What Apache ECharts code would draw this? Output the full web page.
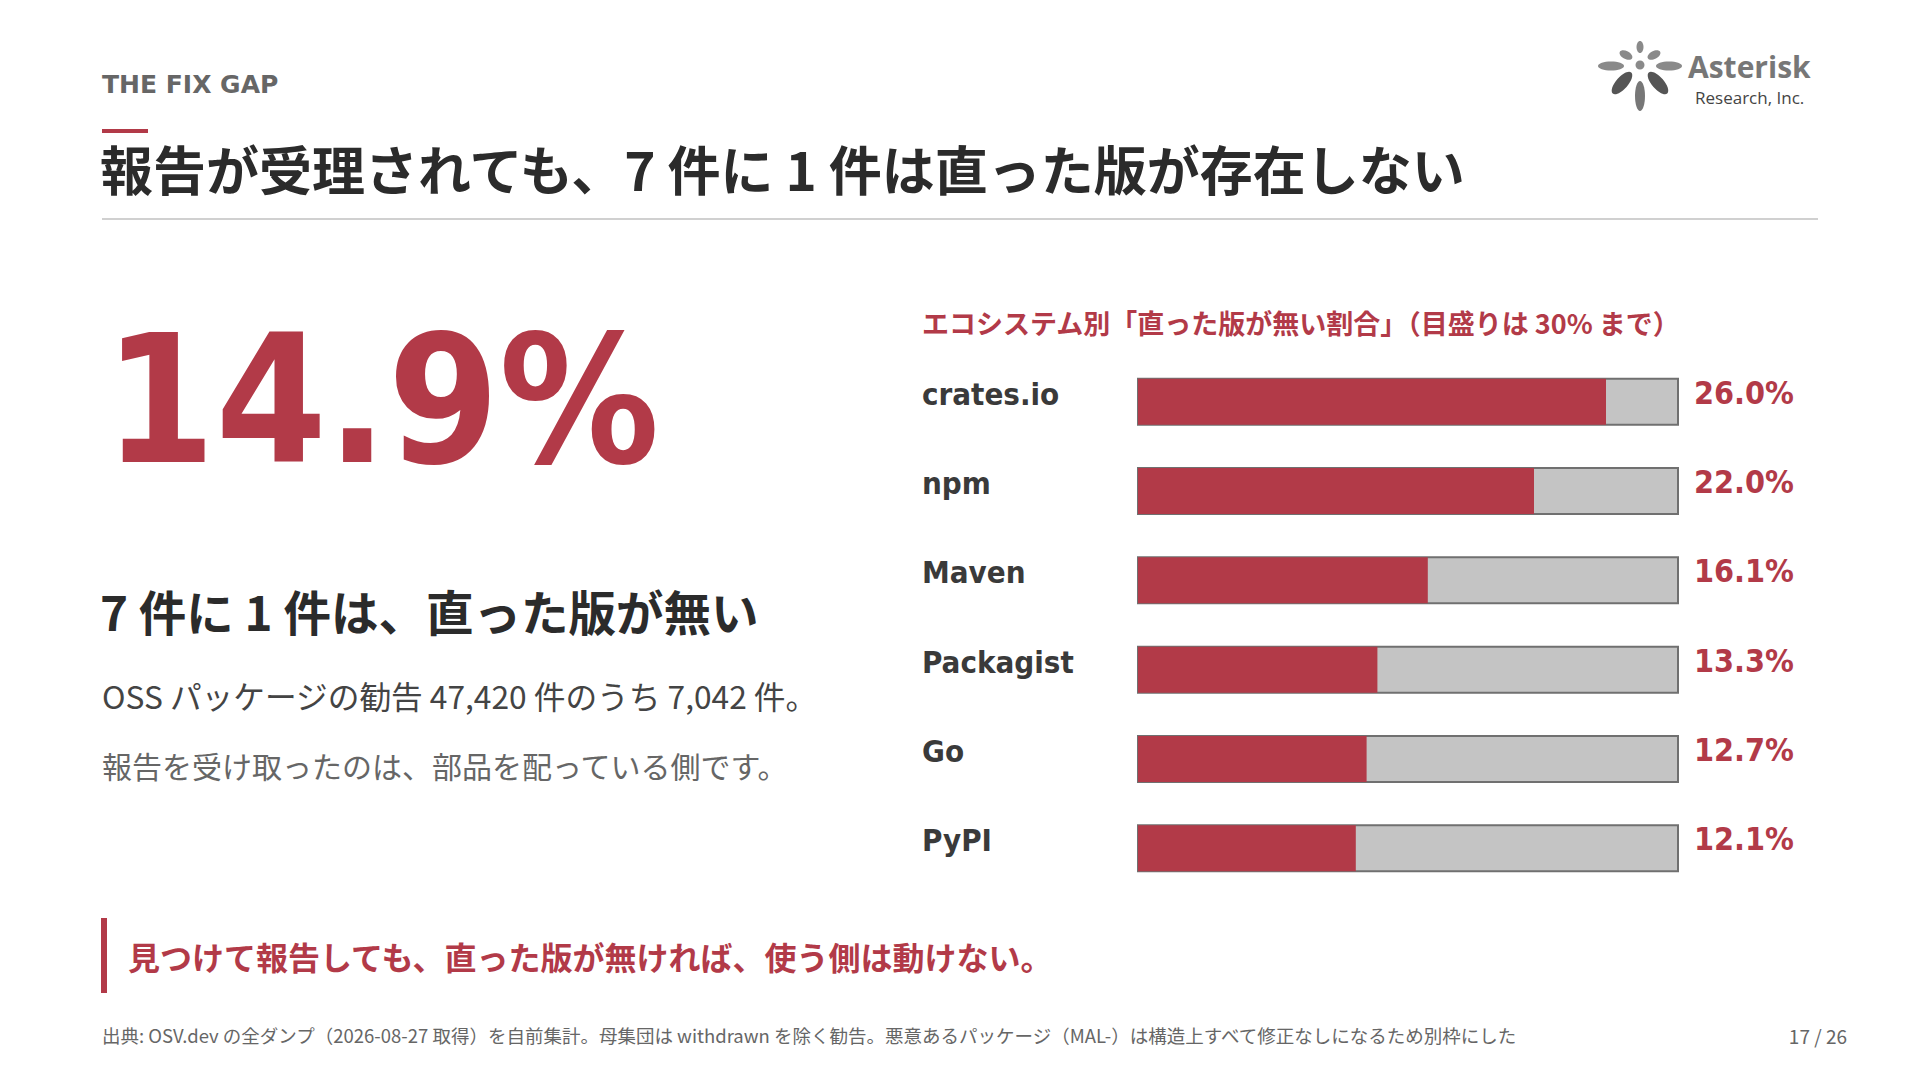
<!DOCTYPE html>
<html>
<head>
<meta charset="utf-8">
<script src="https://cdn.jsdelivr.net/npm/echarts@6/dist/echarts.min.js"></script>
<style>
  html, body { margin: 0; padding: 0; background: #fff; }
  #main { width: 1920px; height: 1080px; }
</style>
</head>
<body>
<div id="main"></div>
<script>
// data
var ecosystems = ['crates.io', 'npm', 'Maven', 'Packagist', 'Go', 'PyPI'];
var noFixShare = [26.0, 22.0, 16.1, 13.3, 12.7, 12.1];
var scaleMax = 30;

var RED = '#b23a48';
var JP = '"Noto Sans CJK JP", "Noto Sans", sans-serif';
var LATIN = '"DejaVu Sans Condensed", "DejaVu Sans", sans-serif';

var shareLabels = noFixShare.map(function (v) { return v.toFixed(1) + '%'; });

// slide texts / decoration drawn with graphic elements
function txt(x, y, text, size, color, weight, extra) {
    var s = {
        text: text, fontSize: size, fontFamily: JP, fontWeight: weight || 'normal',
        fill: color, align: 'left', verticalAlign: 'middle'
    };
    for (var k in extra || {}) s[k] = extra[k];
    return { type: 'text', x: x, y: y, style: s, silent: true };
}

function petal(x, y, rx, ry, rot, color) {
    return {
        type: 'ellipse', x: x, y: y, rotation: rot,
        shape: { cx: 0, cy: 0, rx: rx, ry: ry },
        style: { fill: color }, silent: true
    };
}

var graphics = [
    txt(102, 84, 'THE FIX GAP', 25, '#666', 'bold', { fontFamily: '"DejaVu Sans", sans-serif' }),
    { type: 'rect', shape: { x: 102, y: 129, width: 46, height: 4 }, style: { fill: RED } },
    txt(100, 168, '報告が受理されても、7 件に 1 件は直った版が存在しない', 53, '#2b2b2b', 'bold'),
    { type: 'rect', shape: { x: 102, y: 218, width: 1716, height: 2 }, style: { fill: '#d0d0d0' } },

    txt(104, 400, '14.9%', 178, RED, 'bold', { fontFamily: LATIN }),

    txt(100, 610, '7 件に 1 件は、直った版が無い', 47.5, '#2b2b2b', 'bold'),
    txt(102, 695, 'OSS パッケージの勧告 47,420 件のうち 7,042 件。', 31.7, '#444'),
    txt(102, 765, '報告を受け取ったのは、部品を配っている側です。', 30, '#666'),

    txt(922, 322, 'エコシステム別「直った版が無い割合」（目盛りは 30% まで）', 27, RED, 'bold'),

    { type: 'rect', shape: { x: 101, y: 918, width: 6, height: 75 }, style: { fill: RED } },
    txt(128, 956, '見つけて報告しても、直った版が無ければ、使う側は動けない。', 32, RED, 'bold'),

    txt(102, 1035, '出典: OSV.dev の全ダンプ（2026-08-27 取得）を自前集計。母集団は withdrawn を除く勧告。悪意あるパッケージ（MAL-）は構造上すべて修正なしになるため別枠にした', 18.5, '#666'),
    txt(1847, 1035, '17 / 26', 19, '#666', 'normal', { align: 'right' }),

    // logo
    petal(1640, 47, 3.5, 6, 0, '#8a8a8a'),
    petal(1626, 55, 7, 4, -0.5, '#8a8a8a'),
    petal(1654, 55, 7, 4, 0.5, '#8a8a8a'),
    petal(1611, 66, 13, 4.5, 0, '#8a8a8a'),
    petal(1669, 66, 13, 4.5, 0, '#8a8a8a'),
    petal(1640, 65, 4.5, 4.5, 0, '#8a8a8a'),
    petal(1622, 83, 14, 6, 0.85, '#555'),
    petal(1658, 83, 14, 6, -0.85, '#555'),
    petal(1640, 96, 5, 15, 0, '#777'),
    txt(1688, 66, 'Asterisk', 30, '#777', 'bold', { fontFamily: '"Open Sans", "Noto Sans", sans-serif' }),
    txt(1695, 97, 'Research, Inc.', 17, '#444', 'normal', { fontFamily: '"Open Sans", "Noto Sans", sans-serif' })
];

var chart = echarts.init(document.getElementById('main'), null, { renderer: 'svg' });

var option = {
    backgroundColor: '#fff',
    animation: false,
    grid: { left: 1138, right: 242, top: 357, bottom: 187, containLabel: false },
    xAxis: {
        type: 'value', min: 0, max: scaleMax, show: false
    },
    yAxis: [{
        type: 'category',
        inverse: true,
        data: ecosystems,
        axisLine: { show: false },
        axisTick: { show: false },
        axisLabel: {
            margin: 216, align: 'left', verticalAlign: 'bottom', lineHeight: 16,
            fontSize: 31, fontWeight: 'bold', color: '#3a3a3a', fontFamily: LATIN
        }
    }, {
        type: 'category',
        inverse: true,
        position: 'right',
        data: shareLabels,
        axisLine: { show: false },
        axisTick: { show: false },
        axisLabel: {
            margin: 16, align: 'left', verticalAlign: 'bottom', lineHeight: 18,
            fontSize: 32, fontWeight: 'bold', color: RED, fontFamily: LATIN
        }
    }],
    series: [{
        type: 'bar',
        data: noFixShare,
        barWidth: 46,
        itemStyle: { color: RED },
        showBackground: true,
        backgroundStyle: { color: '#c4c4c4', borderColor: '#707070', borderWidth: 2 },
        silent: true
    }],
    graphic: graphics
};

chart.setOption(option);
</script>
</body>
</html>
